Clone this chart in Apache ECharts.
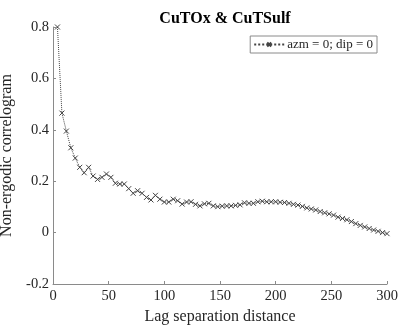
<!DOCTYPE html>
<html>
<head>
<meta charset="utf-8">
<script src="https://cdn.jsdelivr.net/npm/echarts@6/dist/echarts.min.js"></script>
<style>
  html, body { margin: 0; padding: 0; background: #fff; }
  #chart { width: 401px; height: 333px; }
</style>
</head>
<body>
<div id="chart"></div>
<script>
// Experimental correlogram, lag bins every 4 units
const lags = [
  4, 8, 12, 16, 20, 24, 28, 32, 36, 40, 44, 48, 52, 56, 60, 64, 68, 72, 76, 80,
  84, 88, 92, 96, 100, 104, 108, 112, 116, 120, 124, 128, 132, 136, 140, 144, 148, 152, 156, 160,
  164, 168, 172, 176, 180, 184, 188, 192, 196, 200, 204, 208, 212, 216, 220, 224, 228, 232, 236, 240,
  244, 248, 252, 256, 260, 264, 268, 272, 276, 280, 284, 288, 292, 296, 300
];
const correlogram = [
  0.800, 0.465, 0.395, 0.330, 0.290, 0.254, 0.233, 0.254, 0.220, 0.207,
  0.215, 0.228, 0.215, 0.192, 0.189, 0.189, 0.171, 0.153, 0.163, 0.153,
  0.137, 0.127, 0.145, 0.130, 0.119, 0.119, 0.130, 0.124, 0.111, 0.119,
  0.120, 0.110, 0.104, 0.112, 0.114, 0.104, 0.101, 0.103, 0.104, 0.104,
  0.106, 0.108, 0.116, 0.114, 0.114, 0.120, 0.122, 0.120, 0.120, 0.120,
  0.118, 0.117, 0.114, 0.110, 0.107, 0.102, 0.096, 0.092, 0.088, 0.082,
  0.077, 0.073, 0.068, 0.060, 0.055, 0.050, 0.043, 0.035, 0.028, 0.022,
  0.016, 0.010, 0.005, 0.000, -0.004
];
const seriesName = 'azm = 0; dip = 0';
const chartTitle = 'CuTOx & CuTSulf';
const xLabel = 'Lag separation distance';
const yLabel = 'Non-ergodic correlogram';

const serif = '"Liberation Serif", "DejaVu Serif", serif';
const axisGray = '#8a8a8a';
const textDark = '#262626';
const lineGray = '#444444';

const chart = echarts.init(document.getElementById('chart'), null, { renderer: 'canvas' });

chart.setOption({
  animation: false,
  backgroundColor: '#fff',
  title: {
    text: chartTitle,
    left: 220,
    textAlign: 'center',
    top: 6,
    textStyle: { fontFamily: serif, fontWeight: 'bold', fontSize: 16, color: '#000' }
  },
  legend: {
    right: 24,
    top: 36,
    orient: 'vertical',
    backgroundColor: '#fff',
    borderColor: axisGray,
    borderWidth: 1,
    borderRadius: 0,
    padding: [2, 4, 2, 3],
    itemWidth: 30,
    itemHeight: 5,
    itemGap: 4,
    textStyle: { fontFamily: serif, fontSize: 13, color: textDark, padding: [0, 0, 0, -2] },
    data: [seriesName]
  },
  grid: {
    left: 53, right: 14, top: 27, bottom: 49,
    containLabel: false,
    outerBoundsMode: 'none'
  },
  xAxis: {
    type: 'value',
    min: 0,
    max: 300,
    interval: 50,
    name: xLabel,
    nameLocation: 'middle',
    nameGap: 22,
    nameTextStyle: { fontFamily: serif, fontSize: 16, color: textDark },
    axisLine: { show: true, onZero: false, lineStyle: { color: axisGray, width: 1 } },
    axisTick: { show: true, inside: true, length: 3, lineStyle: { color: axisGray } },
    axisLabel: { fontFamily: serif, fontSize: 14.5, color: textDark, margin: 5 },
    splitLine: { show: false }
  },
  yAxis: {
    type: 'value',
    min: -0.2,
    max: 0.8,
    interval: 0.2,
    name: yLabel,
    nameLocation: 'middle',
    nameGap: 30,
    nameTextStyle: { fontFamily: serif, fontSize: 16, color: textDark },
    axisLine: { show: true, onZero: false, lineStyle: { color: axisGray, width: 1 } },
    axisTick: { show: true, inside: true, length: 3, lineStyle: { color: axisGray } },
    axisLabel: {
      fontFamily: serif, fontSize: 14.5, color: textDark, margin: 4,
      formatter: v => {
        const r = Math.round(v * 10) / 10;
        return r === 0 ? '0' : String(r);
      }
    },
    splitLine: { show: false }
  },
  series: [{
    name: seriesName,
    type: 'line',
    data: lags.map((x, i) => [x, correlogram[i]]),
    symbol: 'path://M0,0L10,10M10,0L0,10',
    symbolSize: 5,
    showSymbol: true,
    lineStyle: { type: 'dotted', width: 1, color: lineGray },
    itemStyle: { color: 'rgba(0,0,0,0)', borderColor: lineGray, borderWidth: 1 },
    emphasis: { disabled: true }
  }]
});
</script>
</body>
</html>
